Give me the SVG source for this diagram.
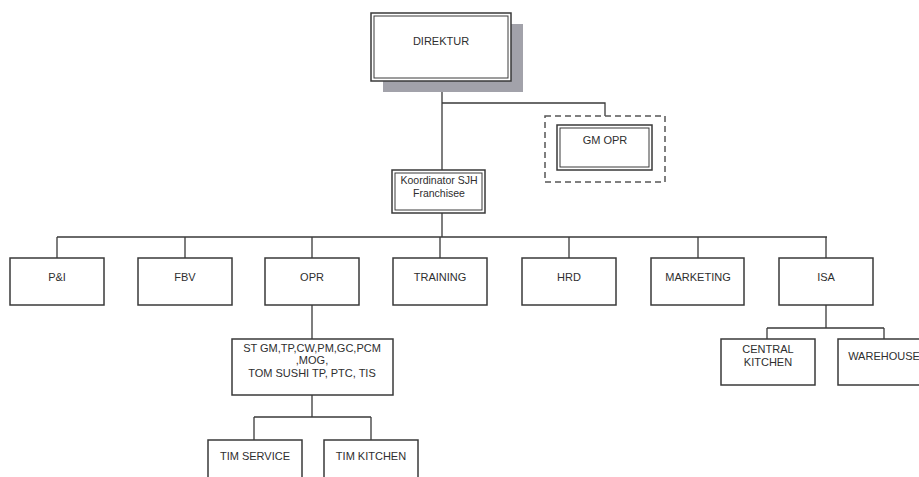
<svg xmlns="http://www.w3.org/2000/svg" width="919" height="477" viewBox="0 0 919 477">
<style>
.box{fill:#fff;stroke:#3a3a3a;stroke-width:1.5}
.inner{fill:none;stroke:#3a3a3a;stroke-width:1}
.dash{fill:none;stroke:#555;stroke-width:1.5;stroke-dasharray:6,4}
.ln{fill:none;stroke:#3a3a3a;stroke-width:1.3}
text{font-family:"Liberation Sans",Arial,sans-serif;font-size:11px;fill:#2e2e2e;text-anchor:middle}
.sm{font-size:10.5px}
</style>
<rect width="919" height="477" fill="#fff"/>
<g id="connectors">
<path class="ln" d="M442 81V170M442 103H605V116M442 213V237M57 237H827M57 237V258M185 237V258M312 237V258M440 237V258M569 237V258M698 237V258M826 237V258"/>
<path class="ln" d="M312 305V339M312 395V417M254 417H371M254 417V440M371 417V440"/>
<path class="ln" d="M826 305V328M767 328H884M767 328V339M884 328V339"/>
</g>
<g id="direktur">
<rect x="383" y="24" width="140" height="68" fill="#a2a2aa"/>
<rect class="box" x="371" y="13" width="140" height="68"/>
<rect class="inner" x="374" y="16" width="134" height="62"/>
<text x="441" y="45">DIREKTUR</text>
</g>
<g id="gm-opr">
<rect class="dash" x="545" y="116" width="120" height="66"/>
<rect class="box" x="557" y="125" width="95" height="45"/>
<rect class="inner" x="560" y="128" width="89" height="39"/>
<text x="605" y="144">GM OPR</text>
</g>
<g id="koordinator">
<rect class="box" x="392" y="170" width="93" height="43"/>
<rect class="inner" x="395" y="173" width="87" height="37"/>
<text class="sm" x="439" y="184">Koordinator SJH</text>
<text class="sm" x="439" y="197">Franchisee</text>
</g>
<g id="pi"><rect class="box" x="10" y="258" width="94" height="47"/><text x="57" y="281">P&amp;I</text></g>
<g id="fbv"><rect class="box" x="138" y="258" width="94" height="47"/><text x="185" y="281">FBV</text></g>
<g id="opr"><rect class="box" x="265" y="258" width="94" height="47"/><text x="312" y="281">OPR</text></g>
<g id="training"><rect class="box" x="393" y="258" width="94" height="47"/><text x="440" y="281">TRAINING</text></g>
<g id="hrd"><rect class="box" x="522" y="258" width="94" height="47"/><text x="569" y="281">HRD</text></g>
<g id="marketing"><rect class="box" x="651" y="258" width="93" height="47"/><text x="698" y="281">MARKETING</text></g>
<g id="isa"><rect class="box" x="779" y="258" width="94" height="47"/><text x="826" y="281">ISA</text></g>
<g id="st-gm">
<rect class="box" x="232" y="339" width="161" height="56"/>
<text x="312" y="352">ST GM,TP,CW,PM,GC,PCM</text>
<text x="312" y="364">,MOG,</text>
<text x="312" y="377">TOM SUSHI TP, PTC, TIS</text>
</g>
<g id="tim-service"><rect class="box" x="208" y="440" width="94" height="45"/><text x="255" y="460">TIM SERVICE</text></g>
<g id="tim-kitchen"><rect class="box" x="324" y="440" width="94" height="45"/><text x="371" y="460">TIM KITCHEN</text></g>
<g id="central-kitchen">
<rect class="box" x="721" y="339" width="94" height="46"/>
<text x="768" y="353">CENTRAL</text>
<text x="768" y="366">KITCHEN</text>
</g>
<g id="warehouse"><rect class="box" x="838" y="339" width="94" height="46"/><text x="884" y="360">WAREHOUSE</text></g>
</svg>
